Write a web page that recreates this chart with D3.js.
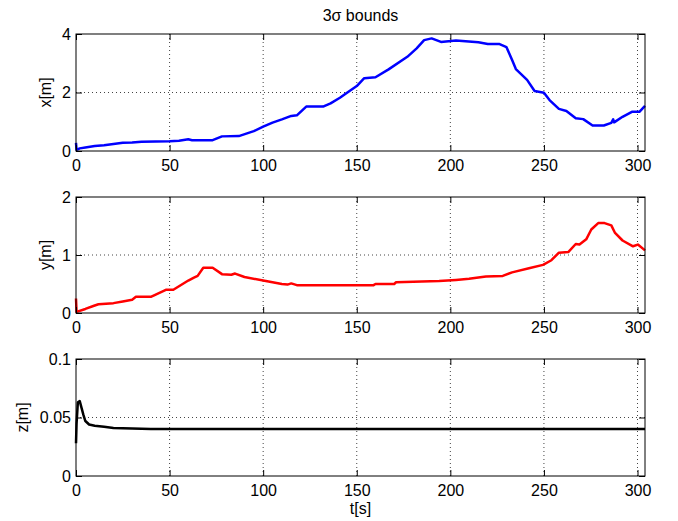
<!DOCTYPE html>
<meta charset="utf-8">
<script src="https://d3js.org/d3.v7.min.js"></script>
<style>
  body { margin: 0; background: #fff; }
  text { font-family: "Liberation Sans", Arial, sans-serif; }
</style>
<div id="chart"></div>
<script>
// time axis ticks
var tTicks = [0, 50, 100, 150, 200, 250, 300];

// x[m] estimate
var tX = [0, 0.3, 2, 5, 10, 15, 20, 25, 30, 35, 50, 55, 60, 62, 73, 78, 87, 95, 100, 105, 110, 115, 118, 123, 132, 136,
  141, 145, 150, 154, 160, 167, 177, 182, 186, 190, 195, 203, 215, 220, 226, 230, 233, 235, 241, 245, 250, 253,
  258, 262, 267, 271, 276, 282, 286, 287, 287.5, 292, 297, 301, 304];
var xVals = [0.28, 0.04, 0.09, 0.12, 0.17, 0.2, 0.24, 0.28, 0.29, 0.32, 0.33, 0.35, 0.4, 0.37, 0.37, 0.5, 0.51, 0.68, 0.83, 0.97,
  1.08, 1.2, 1.22, 1.52, 1.52, 1.63, 1.82, 2.0, 2.22, 2.49, 2.52, 2.79, 3.22, 3.51, 3.79, 3.85, 3.73, 3.78, 3.72, 3.66,
  3.66, 3.55, 3.11, 2.8, 2.43, 2.05, 1.99, 1.74, 1.44, 1.37, 1.12, 1.09, 0.87, 0.87, 0.96, 1.08, 0.98, 1.17, 1.34, 1.34, 1.54];

// y[m] estimate
var tY = [0, 0.3, 5, 10, 12, 20, 25, 30, 32, 40, 48, 52, 60, 63, 65, 68, 73, 78, 83, 85, 90, 100, 110, 113, 115, 118, 140,
  159, 160, 170, 171, 194, 203, 210, 219, 228, 233, 242, 249.5, 254, 258, 263, 267, 269, 272.6, 275.3, 279, 282.4, 286,
  288, 292, 297.6, 300.2, 304];
var yVals = [0.25, 0.02, 0.07, 0.13, 0.15, 0.17, 0.2, 0.23, 0.28, 0.28, 0.4, 0.4, 0.56, 0.61, 0.64, 0.78, 0.78, 0.67, 0.66, 0.68,
  0.62, 0.56, 0.5, 0.49, 0.51, 0.48, 0.48, 0.48, 0.5, 0.5, 0.53, 0.55, 0.57, 0.59, 0.63, 0.64, 0.7, 0.77, 0.83, 0.91,
  1.04, 1.05, 1.19, 1.18, 1.27, 1.44, 1.55, 1.55, 1.51, 1.38, 1.25, 1.15, 1.18, 1.08];

// z[m] estimate
var tZ = [0, 0.3, 1, 2, 3, 4, 5, 7, 10, 15, 20, 30, 40, 100, 200, 304];
var zVals = [0.028, 0.045, 0.063, 0.064, 0.058, 0.052, 0.047, 0.044, 0.043, 0.042, 0.041, 0.0405, 0.0402, 0.0401, 0.0401, 0.0401];

var W = 678, H = 521;
var left = 76, right = 645;

var panels = [
  {top: 34, bottom: 151, domain: [0, 4], ticks: [0, 2, 4], fmt: d3.format("d"), label: "x[m]", labelX: 45,
   t: tX, v: xVals, color: "#0000ff"},
  {top: 197, bottom: 313, domain: [0, 2], ticks: [0, 1, 2], fmt: d3.format("d"), label: "y[m]", labelX: 45,
   t: tY, v: yVals, color: "#ff0000"},
  {top: 359, bottom: 476, domain: [0, 0.1], ticks: [0, 0.05, 0.1], fmt: function(d) { return d === 0 ? "0" : String(d); },
   label: "z[m]", labelX: 22, t: tZ, v: zVals, color: "#000000"}
];

var svg = d3.select("#chart").append("svg")
  .attr("width", W)
  .attr("height", H);

var x = d3.scaleLinear().domain([0, 304]).range([left, right]);

panels.forEach(function(p) {
  var y = d3.scaleLinear().domain(p.domain).range([p.bottom, p.top]);
  var g = svg.append("g");

  // grid
  g.selectAll(".vg").data(tTicks.filter(function(d) { return d > 0; }))
    .enter().append("line")
    .attr("x1", function(d) { return x(d); }).attr("x2", function(d) { return x(d); })
    .attr("y1", p.top).attr("y2", p.bottom)
    .attr("stroke", "#444").attr("stroke-width", 1).attr("stroke-dasharray", "1,3");
  g.selectAll(".hg").data(p.ticks.slice(1, -1))
    .enter().append("line")
    .attr("x1", left).attr("x2", right)
    .attr("y1", function(d) { return y(d); }).attr("y2", function(d) { return y(d); })
    .attr("stroke", "#444").attr("stroke-width", 1).attr("stroke-dasharray", "1,3");

  // the curve
  var pts = p.t.map(function(d, i) { return [d, p.v[i]]; });
  g.append("path")
    .datum(pts)
    .attr("fill", "none")
    .attr("stroke", p.color)
    .attr("stroke-width", 2.5)
    .attr("stroke-linejoin", "round")
    .attr("d", d3.line().x(function(d) { return x(d[0]); }).y(function(d) { return y(d[1]); }));

  // axes: ticks inside, on all four sides
  var tl = -6;
  g.append("g").attr("transform", "translate(0," + p.bottom + ")")
    .call(d3.axisBottom(x).tickValues(tTicks).tickSize(tl).tickPadding(9))
    .call(function(a) { a.select(".domain").remove(); });
  g.append("g").attr("transform", "translate(0," + p.top + ")")
    .call(d3.axisTop(x).tickValues(tTicks).tickSize(tl).tickFormat(""))
    .call(function(a) { a.select(".domain").remove(); });
  g.append("g").attr("transform", "translate(" + left + ",0)")
    .call(d3.axisLeft(y).tickValues(p.ticks).tickSize(tl).tickPadding(5).tickFormat(p.fmt))
    .call(function(a) { a.select(".domain").remove(); });
  g.append("g").attr("transform", "translate(" + right + ",0)")
    .call(d3.axisRight(y).tickValues(p.ticks).tickSize(tl).tickFormat(""))
    .call(function(a) { a.select(".domain").remove(); });

  g.selectAll(".tick text")
    .style("font-size", "16px")
    .attr("fill", "#000");
  g.selectAll(".tick line").attr("stroke", "#000");

  // frame
  g.append("rect")
    .attr("x", left).attr("y", p.top)
    .attr("width", right - left).attr("height", p.bottom - p.top)
    .attr("fill", "none").attr("stroke", "#000").attr("stroke-width", 1);

  // y label
  g.append("text")
    .attr("transform", "translate(" + p.labelX + "," + ((p.top + p.bottom) / 2) + ") rotate(-90)")
    .attr("text-anchor", "middle")
    .attr("dy", "0.35em")
    .style("font-size", "16px")
    .text(p.label);
});

// title
svg.append("text")
  .attr("x", (left + right) / 2)
  .attr("y", 21)
  .attr("text-anchor", "middle")
  .style("font-size", "16px")
  .text("3σ bounds");

// x label
svg.append("text")
  .attr("x", (left + right) / 2)
  .attr("y", 514)
  .attr("text-anchor", "middle")
  .style("font-size", "16px")
  .text("t[s]");
</script>
